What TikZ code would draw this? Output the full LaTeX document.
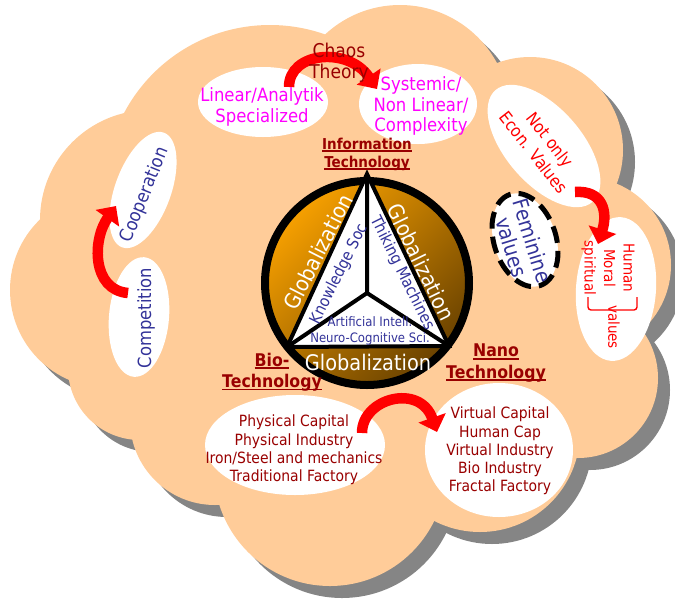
\documentclass[tikz,border=0pt]{standalone}
\usepackage{fontspec}
\setmainfont{DejaVu Sans}[FakeStretch=0.9]
\usetikzlibrary{arrows.meta,shapes.geometric}
\definecolor{peach}{HTML}{FFCC99}
\definecolor{shadowgray}{HTML}{858585}
\definecolor{dred}{HTML}{990000}
\definecolor{txtblue}{HTML}{333399}
\definecolor{magentaT}{HTML}{FF00FF}
\definecolor{orangeT}{HTML}{F7A000}
\definecolor{brownT}{HTML}{6A4200}
\newcommand\fz[2]{\fontsize{#1}{#2}\selectfont}
\newcommand\ulx[1]{\setbox0\hbox{#1}\leavevmode\rlap{\color{dred}\rule[-2.8pt]{\wd0}{1.6pt}}\box0}
\tikzset{
  wel/.style={ellipse, fill=white, inner sep=0pt, outer sep=0pt},
  bigarrow/.style={draw=red, line width=10.5pt, -{Triangle[length=15pt,width=28pt]}},
  lbl/.style={align=center, inner sep=0pt},
  magtxt/.style={lbl, text=magentaT, font=\fz{18.3}{20.5}},
  listtxt/.style={lbl, text=dred, font=\fz{15.5}{18.2}},
  techtxt/.style={lbl, text=dred, font=\bfseries\fz{17.5}{21.5}},
  bluetxt/.style={lbl, text=txtblue},
  globtxt/.style={lbl, text=white, font=\fz{21.5}{24}},
}
\begin{document}
\begin{tikzpicture}[x=1pt,y=-1pt]
\useasboundingbox (0,0) rectangle (675,598);
% ---- cloud shadow
\begin{scope}[shift={(12,12)}]
\foreach \cx/\cy/\r in {150/220/110,270/190/165,400/115/110,530/150/93,583/265/88,578/378/80,480/432/100,330/470/116,215/420/85,140/368/72,108/290/98}
  {\fill[shadowgray] (\cx,\cy) circle[radius=\r];}
\fill[shadowgray] (150,220) -- (270,190) -- (400,115) -- (530,150) -- (583,265) -- (578,378) -- (480,432) -- (330,470) -- (215,420) -- (140,368) -- (108,290) -- cycle;
\end{scope}
% ---- cloud
\foreach \cx/\cy/\r in {150/220/110,270/190/165,400/115/110,530/150/93,583/265/88,578/378/80,480/432/100,330/470/116,215/420/85,140/368/72,108/290/98}
  {\fill[peach] (\cx,\cy) circle[radius=\r];}
\fill[peach] (150,220) -- (270,190) -- (400,115) -- (530,150) -- (583,265) -- (578,378) -- (480,432) -- (330,470) -- (215,420) -- (140,368) -- (108,290) -- cycle;

% ---- white ellipses
\node[wel, minimum width=130pt, minimum height=70pt] (lin) at (263,102) {};
\node[wel, minimum width=118pt, minimum height=80pt] (sys) at (418,104) {};
\node[wel, minimum width=122pt, minimum height=56pt, rotate=70] (coop) at (143,190) {};
\node[wel, minimum width=120pt, minimum height=60pt, rotate=85] (comp) at (139,317) {};
\node[wel, minimum width=148pt, minimum height=76pt, rotate=-49] (econ) at (544,146) {};
\node[wel, minimum width=96pt, minimum height=62pt, rotate=-72, draw=black, line width=5pt, dash pattern=on 17pt off 8pt] (fem) at (525,240) {};
\node[wel, minimum width=144pt, minimum height=80pt, rotate=86] (hum) at (616,289) {};
\node[wel, minimum width=180pt, minimum height=100pt] (phys) at (295,445) {};
\node[wel, minimum width=148pt, minimum height=134pt] (virt) at (499,450) {};

% ---- arrows
\coordinate (chaosS) at (289,87);  \coordinate (chaosE) at (377,89);
\coordinate (coopS) at (128,293);  \coordinate (coopE) at (116,206);
\coordinate (econS) at (575,192);  \coordinate (econE) at (598,244);
\coordinate (physS) at (362,433);  \coordinate (physE) at (437,432);
\draw[bigarrow] (chaosS) .. controls (289,52) and (348,46) .. (chaosE);
\draw[bigarrow] (coopS) .. controls (92,290) and (92,240) .. (coopE);
\draw[bigarrow] (econS) .. controls (603,190) and (608,212) .. (econE);
\draw[bigarrow] (physS) .. controls (362,398) and (420,383) .. (physE);

% ---- texts
\node[magtxt] (linT) at (262,107) {Linear/Analytik\\Specialized};
\node[magtxt] (sysT) at (421,106) {Systemic/\\Non Linear/\\Complexity};
\node[lbl, text=dred, font=\fz{19}{20.5}] (chaos) at (339,63) {Chaos\\Theory};
\node[bluetxt, font=\fz{18.3}{20}, rotate=68] (coopT) at (145,195) {Cooperation};
\node[bluetxt, font=\fz{18.2}{20}, rotate=90] (compT) at (146,318) {Competition};
\node[lbl, text=red, font=\fz{17}{21}, rotate=-52] (econT) at (542,146) {Not only\\Econ. Values};
\node[bluetxt, font=\fz{21}{22}, rotate=-73] (femT) at (522,244) {Feminine\\values};
\node[lbl, text=red, font=\fz{15}{19.5}, rotate=-90] (humT) at (608,268) {Human\\Moral\\spiritual};
\node[lbl, text=red, font=\fz{15}{17}, rotate=-90] (valT) at (614,327) {values};
\draw[red, line width=1.4pt, rounded corners=3pt] (588,297) -- (588,310) -- (637,310) -- (637,297);
\node[listtxt] (physT) at (294,450) {Physical Capital\\Physical Industry\\Iron/Steel and mechanics\\Traditional Factory};
\node[listtxt] (virtT) at (500,451) {Virtual Capital\\Human Cap\\Virtual Industry\\Bio Industry\\Fractal Factory};

% ---- globe
\node[circle, minimum size=204pt, inner sep=0pt, draw=black, line width=8pt,
      top color=orangeT, bottom color=brownT, shading angle=45] (globe) at (367,283) {};
\coordinate (tT) at (367,174); \coordinate (tL) at (287,347);
\coordinate (tR) at (449,346); \coordinate (tC) at (367,293);
\draw[line width=4pt, fill=white, miter limit=10] (tT) -- (tL) -- (tR) -- cycle;
\draw[line width=4pt] (tC) -- (tT) (tC) -- (tL) (tC) -- (tR);
\node[globtxt, rotate=63] (g1) at (318,252) {Globalization};
\node[globtxt, rotate=-64] (g2) at (421,262) {Globalization};
\node[globtxt] (g3) at (368,362) {Globalization};
\node[bluetxt, font=\fz{16}{17}, rotate=63.5] (know) at (339,274) {Knowledge Soc};
\node[bluetxt, font=\fz{16}{17}, rotate=-63.5] (think) at (402,273) {Thiking Machines};
\node[bluetxt, font=\fz{13}{16}] (ai) at (370,331) {Artificial Intell.\\Neuro-Cognitive Sci.};

% ---- technology labels
\node[lbl, text=dred, font=\bfseries\fz{15}{18}] (it) at (367,154) {\ulx{Information}\\\ulx{Technology}};
\node[techtxt] (bio) at (272,372) {\ulx{Bio-}\\\ulx{Technology}};
\node[techtxt] (nano) at (496,363) {\ulx{Nano}\\\ulx{Technology}};
\end{tikzpicture}
\end{document}
